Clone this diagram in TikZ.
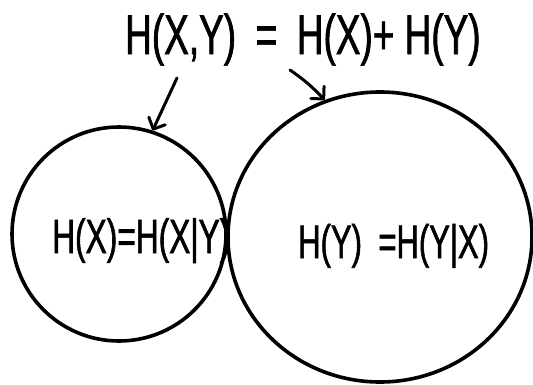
\documentclass[tikz,border=0pt]{standalone}
\usepackage{fontspec}
\usepackage{tikz}
\usetikzlibrary{arrows.meta, shapes.geometric}
\newfontfamily\handfont[FakeStretch=0.66, FakeBold=1.2]{Liberation Sans}

\begin{document}
\begin{tikzpicture}[x=1pt, y=1pt,
    blob/.style={draw, line width=3.6pt, inner sep=0pt},
    hand/.style={font=\handfont\fontsize{#1}{#1}\selectfont, inner sep=0pt, anchor=base west},
    pointer/.style={line width=3pt, line cap=round, -{Straight Barb[length=9pt, width=18pt, round]}}]
    \useasboundingbox (0,0) rectangle (533,384);
    % Circles
    \node[blob, circle, minimum size=214pt] (hx) at (119,150) {};
    \node[blob, ellipse, minimum width=304pt, minimum height=290pt] (hy) at (380,147) {};
    % Labels
    \node[hand=56pt] (hxy) at (125,330) {H(X,Y) \,=\, H(X)+ H(Y)};
    \node[hand=48pt] (hxtext) at (52,131) {H(X)=H(X|Y)};
    \node[hand=47pt] (hytext) at (298,126) {H(Y) \,=H(Y|X)};
    % Arrows
    \coordinate (from x) at (177,306);
    \coordinate (from y) at (290,314);
    \draw[pointer] (from x) -- (hx.72);
    \draw[pointer] (from y) to[bend left=6] (hy.112);
\end{tikzpicture}
\end{document}
